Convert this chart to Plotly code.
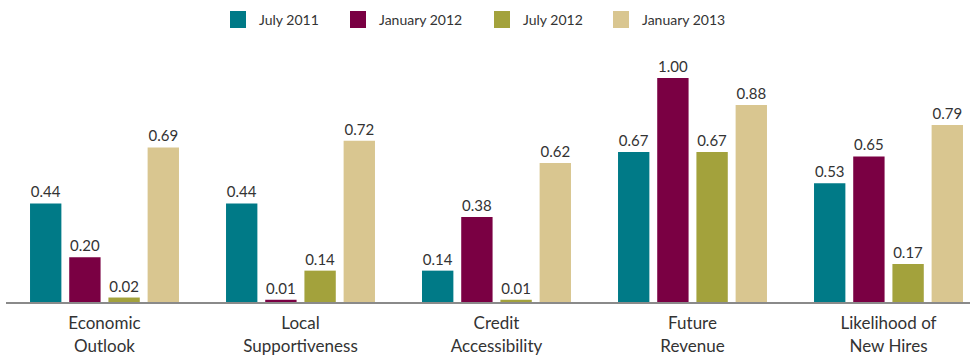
import plotly.graph_objects as go

categories = ["Economic<br>Outlook", "Local<br>Supportiveness", "Credit<br>Accessibility",
              "Future<br>Revenue", "Likelihood of<br>New Hires"]
series_names = ["July 2011", "January 2012", "July 2012", "January 2013"]
jul_2011 = [0.44, 0.44, 0.14, 0.67, 0.53]
jan_2012 = [0.20, 0.01, 0.38, 1.00, 0.65]
jul_2012 = [0.02, 0.14, 0.01, 0.67, 0.17]
jan_2013 = [0.69, 0.72, 0.62, 0.88, 0.79]
colors = ["#007A87", "#7A0043", "#A3A23C", "#D9C690"]

FONT = "Lato, 'Open Sans', sans-serif"
W, H = 976, 358
ML, MR, MT, MB = 6, 6, 50, 56
PW, PH = W - ML - MR, H - MT - MB

fig = go.Figure()
for name, vals, col in zip(series_names, [jul_2011, jan_2012, jul_2012, jan_2013], colors):
    fig.add_trace(go.Bar(
        x=list(range(len(categories))), y=vals, name=name,
        marker=dict(color=col, line=dict(width=0)),
        text=[f"{v:.2f}" for v in vals], textposition="outside",
        textfont=dict(size=15, color="#333333", family=FONT), cliponaxis=False,
        showlegend=False,
    ))

# manual legend (pixel positions converted to paper coords)
legend_sq_x = [230, 350, 494, 613]
legend_tx_x = [257, 377, 521, 640]
def px(x):
    return (x - ML) / PW
def py(y):
    return (H - MB - y) / PH
for name, col, sx, tx in zip(series_names, colors, legend_sq_x, legend_tx_x):
    fig.add_shape(type="rect", xref="paper", yref="paper",
                  x0=px(sx), x1=px(sx + 16), y0=py(28), y1=py(11),
                  fillcolor=col, line=dict(width=0))
    fig.add_annotation(xref="paper", yref="paper", x=px(tx), y=py(20),
                       xanchor="left", yanchor="middle", text=name, showarrow=False,
                       font=dict(size=14, color="#333333", family=FONT))

pitch = 196.0
c0 = 104.5
fig.update_layout(
    width=W, height=H,
    margin=dict(l=ML, r=MR, t=MT, b=MB, autoexpand=False),
    paper_bgcolor="white", plot_bgcolor="white",
    barmode="group", bargap=0.2, bargroupgap=0.2,
    font=dict(family=FONT, size=15, color="#333333"),
    showlegend=False,
    xaxis=dict(showline=True, linecolor="#8a8a8a", linewidth=2, ticks="",
               range=[(ML - c0) / pitch, (W - MR - c0) / pitch],
               tickmode="array", tickvals=list(range(len(categories))), ticktext=categories,
               tickfont=dict(size=17, color="#333333", family=FONT), fixedrange=True,
               ticklabelstandoff=5, automargin=False),
    yaxis=dict(range=[0, PH / 224.0], visible=False, showgrid=False, zeroline=False,
               fixedrange=True, automargin=False),
)
fig.write_html("out.html")
